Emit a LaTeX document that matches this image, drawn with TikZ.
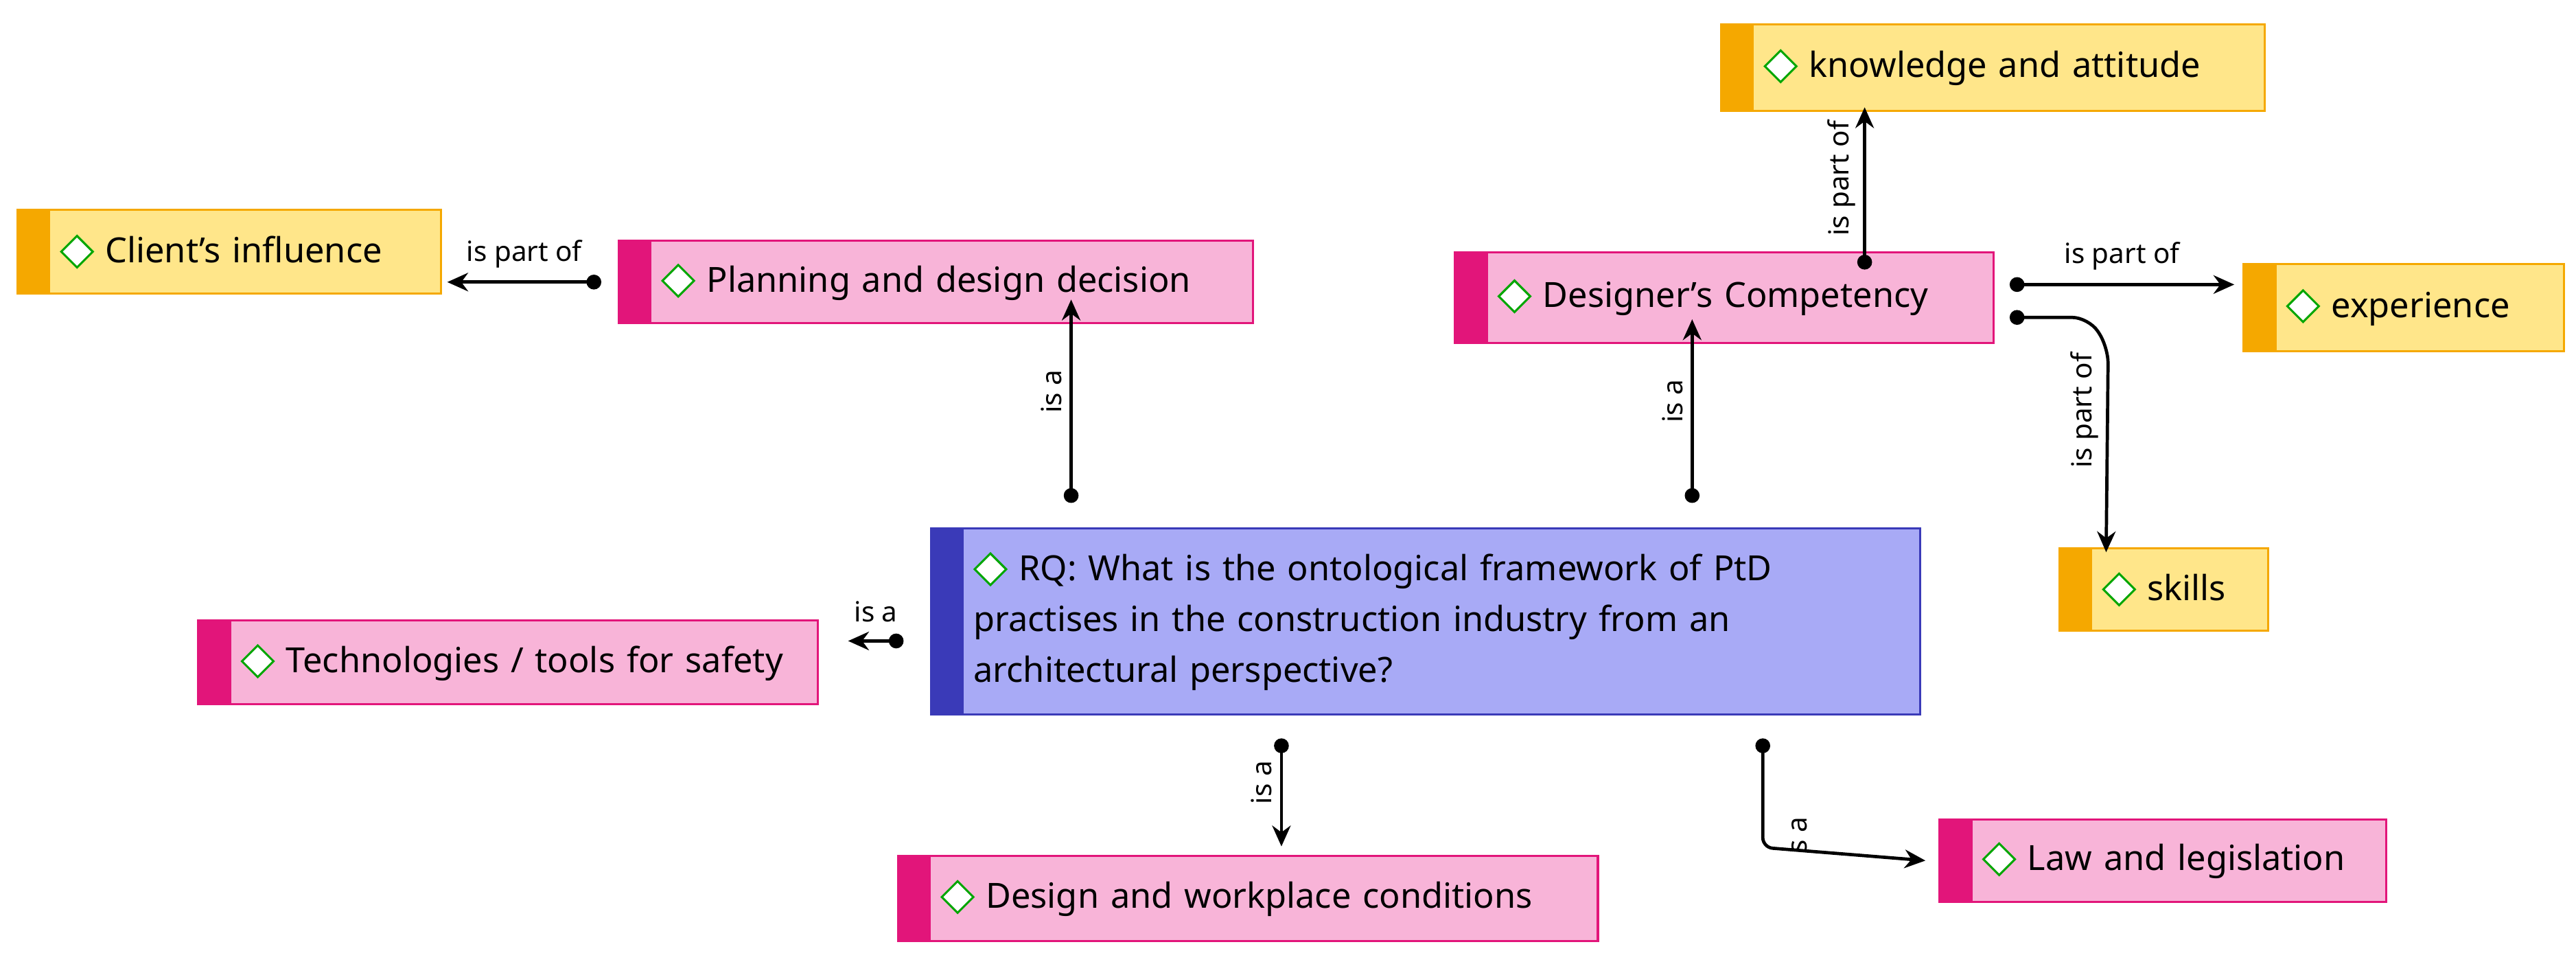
\documentclass[tikz,border=0pt]{standalone}
\usepackage{fontspec}
\setmainfont{Noto Sans}
\usetikzlibrary{arrows.meta,calc}
\newlength\pxu
\setlength\pxu{0.025cm}
\definecolor{pinkfill}{HTML}{F8B4D8}
\definecolor{pinkbar}{HTML}{E2157A}
\definecolor{yelfill}{HTML}{FFE68A}
\definecolor{yelbar}{HTML}{F5A800}
\definecolor{bluefill}{HTML}{A8AAF6}
\definecolor{bluebar}{HTML}{3A3AB8}
\newcommand\dmd{\tikz[baseline=-0.6ex]\draw[line width=0.9pt,draw=green!65!black,fill=white] (0,0.24cm)--(0.24cm,0)--(0,-0.24cm)--(-0.24cm,0)--cycle;}

\begin{document}
\begin{tikzpicture}[x=\pxu, y=-\pxu,
    box/.style={draw=#1bar, fill=#1fill, line width=0.9pt, rectangle, anchor=north west,
        inner sep=0pt, align=left, font=\fontsize{15}{22}\selectfont,
        path picture={\fill[#1bar] (path picture bounding box.south west) rectangle
            ([xshift=20\pxu]path picture bounding box.north west);}},
    rel/.style={line width=1.4pt, {Circle[length=6.4pt]}-{Stealth[length=9pt,width=8pt]}},
    lbl/.style={font=\fontsize{12}{14}\selectfont}]
  \useasboundingbox (0,0) rectangle (1568,585);

  % Concepts
  \node[box=yel, text width=258\pxu, minimum height=51\pxu] (client) at (10,127)
      {\hspace{26\pxu}\dmd\ Client's influence};
  \node[box=pink, text width=386\pxu, minimum height=50\pxu] (plan) at (376,146)
      {\hspace{26\pxu}\dmd\ Planning and design decision};
  \node[box=yel, text width=331\pxu, minimum height=53\pxu] (know) at (1047,14)
      {\hspace{26\pxu}\dmd\ knowledge and attitude};
  \node[box=pink, text width=328\pxu, minimum height=55\pxu] (comp) at (885,153)
      {\hspace{26\pxu}\dmd\ Designer's Competency};
  \node[box=yel, text width=195\pxu, minimum height=53\pxu] (exp) at (1365,160)
      {\hspace{26\pxu}\dmd\ experience};
  \node[box=yel, text width=127\pxu, minimum height=50\pxu] (skills) at (1253,333)
      {\hspace{26\pxu}\dmd\ skills};
  \node[box=blue, text width=602\pxu, minimum height=113\pxu] (rq) at (566,321)
      {\hspace{26\pxu}\dmd\ RQ: What is the ontological framework of PtD\\
       \hspace{26\pxu}practises in the construction industry from an\\
       \hspace{26\pxu}architectural perspective?};
  \node[box=pink, text width=377\pxu, minimum height=51\pxu] (tech) at (120,377)
      {\hspace{26\pxu}\dmd\ Technologies / tools for safety};
  \node[box=pink, text width=426\pxu, minimum height=52\pxu] (work) at (546,520)
      {\hspace{26\pxu}\dmd\ Design and workplace conditions};
  \node[box=pink, text width=272\pxu, minimum height=50\pxu] (law) at (1180,498)
      {\hspace{26\pxu}\dmd\ Law and legislation};

  % Relations
  \draw[rel] ([xshift=-10\pxu]plan.west) -- ([xshift=3\pxu]plan.west -| client.east)
      node[lbl, midway, above=3\pxu] {is part of};
  \draw[rel] ([shift={(86,-15)}]rq.north west) -- ([shift={(86,-15)}]rq.north west |- plan.south)
      node[lbl, midway, above=6\pxu, rotate=90] {is a};
  \draw[rel] ([shift={(464,-15)}]rq.north west) -- ([shift={(464,-15)}]rq.north west |- comp.south)
      node[lbl, midway, above=6\pxu, rotate=90] {is a};
  \draw[rel] ([shift={(-16,69)}]rq.north west) -- ([shift={(18,69)}]rq.north west -| tech.east)
      node[lbl, midway, above=6\pxu] {is a};
  \draw[rel] ([shift={(214,14)}]rq.south west) -- ([shift={(214,-5)}]rq.south west |- work.north)
      node[lbl, midway, above=6\pxu, rotate=90] {is a};
  \draw[rel, rounded corners=6\pxu] ([shift={(507,14)}]rq.south west) -- ([shift={(507,-8)}]rq.south west |- law.west)
      -- ([xshift=-8\pxu]law.west)
      node[lbl, pos=0.12, below=8\pxu, rotate=90, anchor=north west] {s a};
  \draw[rel] ([xshift=250\pxu, yshift=-11\pxu]comp.north west) -- ([xshift=88\pxu, yshift=3\pxu]know.south west)
      node[lbl, midway, above=6\pxu, rotate=90] {is part of};
  \draw[rel] ([shift={(9,-8)}]comp.east) -- ([shift={(-5,-8)}]comp.east -| exp.west)
      node[lbl, midway, above=3\pxu] {is part of};
  \draw[rel, rounded corners=10\pxu] ([shift={(9,12)}]comp.east) -- ([shift={(57,12)}]comp.east)
      -- ([shift={(69,30)}]comp.east) -- ([xshift=29\pxu, yshift=-3\pxu]skills.north west)
      node[lbl, pos=0.35, above=5\pxu, rotate=90] {is part of};
\end{tikzpicture}
\end{document}
